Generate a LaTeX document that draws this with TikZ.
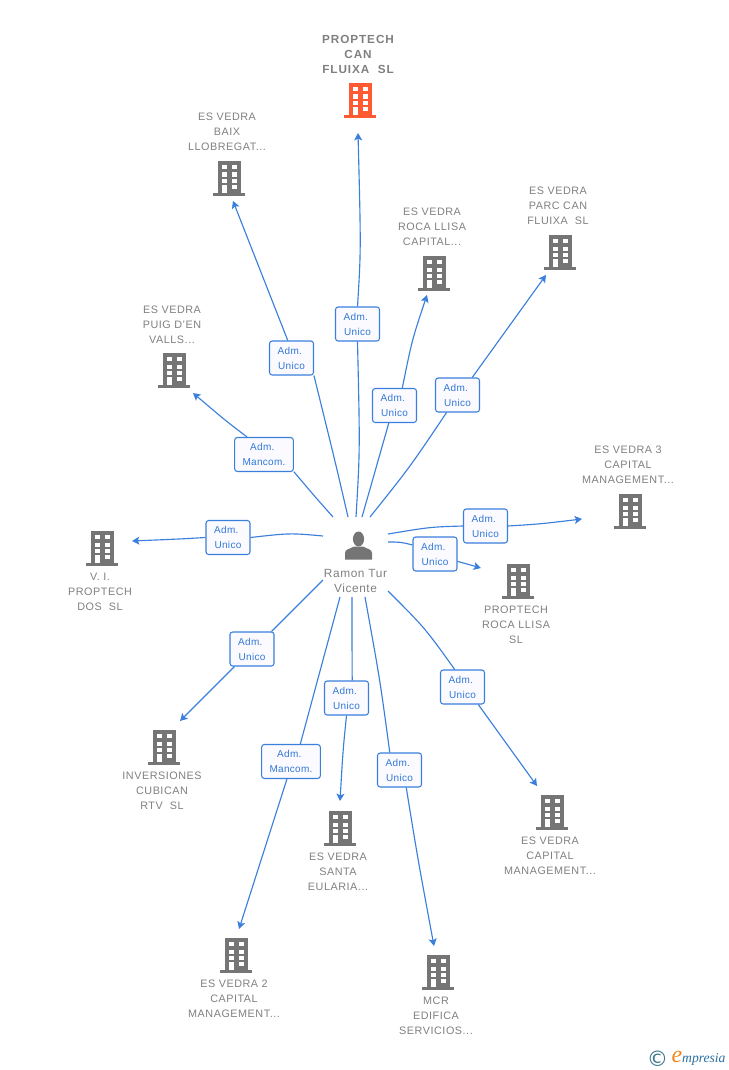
\documentclass[tikz,border=0pt]{standalone}
\usepackage{fontspec}
\setmainfont{Liberation Sans}
\newfontfamily\logofont{Liberation Serif}
\newfontfamily\symfont{DejaVu Sans}
\usetikzlibrary{arrows.meta,positioning}
\definecolor{edgeblue}{RGB}{58,127,220}
\definecolor{roletext}{RGB}{50,120,215}
\definecolor{labelgrey}{RGB}{128,128,128}
\definecolor{iconblack}{RGB}{117,117,117}
\definecolor{iconred}{RGB}{255,90,50}
\definecolor{logoteal}{RGB}{60,120,140}
\definecolor{logoorange}{RGB}{240,135,30}
\definecolor{logoblue}{RGB}{40,110,160}
\newcommand{\admrole}{Adm.\kern2.5pt}
\tikzstyle{edge} = [edgeblue,line width=0.85pt]
\tikzstyle{arrow} = [edge,-{Stealth[length=5.5pt,width=6pt,inset=1.2pt]}]
\tikzstyle{rolebox} = [rectangle, rounded corners=2pt, minimum width=33pt, minimum height=25.5pt, inner sep=0pt, align=center, draw=edgeblue, fill=white!98!blue, line width=0.8pt, text=roletext, font=\fontsize{7.5pt}{11.2pt}\selectfont\addfontfeature{LetterSpace=3}]
\tikzstyle{namelabel} = [align=center, inner sep=0pt, text=labelgrey, font=\fontsize{8.1pt}{11.25pt}\selectfont\addfontfeature{LetterSpace=5}]
\tikzstyle{building} = [rectangle, minimum width=24pt, minimum height=27pt, inner sep=0pt,
  path picture={
    \begin{scope}[shift={(path picture bounding box.center)}]
    \fill[#1] (-11.5,-17) rectangle (11.5,15);
    \fill[#1] (-16,15) rectangle (16,18);
    \foreach \wy in {-13,-5.5,1}{
      \fill[white] (-7.5,\wy) rectangle (-2.5,{\wy+4.3});
      \fill[white] (2.5,\wy) rectangle (7.5,{\wy+4.3});
    }
    \fill[white] (2.5,7) rectangle (7.5,11.3);
    \fill[white] (-7.5,7) rectangle (-2.5,15);
    \end{scope}
  }]
\begin{document}
\begin{tikzpicture}[x=0.75pt,y=-0.75pt]
\useasboundingbox (0,0) rectangle (728,1070);

% Person in the middle
\node[minimum width=24pt, minimum height=24pt, inner sep=0pt] (person) at (358,545) {};
\fill[iconblack] (358.5,539) ellipse (5.6 and 7.5);
\fill[iconblack] (345,559.5) -- (345,553) .. controls (345,549) and (350,549) .. (354,546.5) -- (363,546.5) .. controls (367,549) and (372,549) .. (372,553) -- (372,559.5) -- cycle;
\node[namelabel, font=\fontsize{8.9pt}{11.25pt}\selectfont\addfontfeature{LetterSpace=5}] (personname) at (355.5,580.5) {Ramon Tur\\Vicente};

% Buildings
\node[building=iconred] (top) at (360,100) {};
\node[building=iconblack] (baix) at (229,178) {};
\node[building=iconblack] (rocacap) at (434,273) {};
\node[building=iconblack] (parc) at (560,252) {};
\node[building=iconblack] (puig) at (174,370) {};
\node[building=iconblack] (trescap) at (630,511) {};
\node[building=iconblack] (rocasl) at (518,581) {};
\node[building=iconblack] (vi) at (102,548) {};
\node[building=iconblack] (inver) at (164,747) {};
\node[building=iconblack] (santa) at (340,828) {};
\node[building=iconblack] (capital) at (552,812) {};
\node[building=iconblack] (doscap) at (236,955) {};
\node[building=iconblack] (mcr) at (438,972) {};

% Names
\node[namelabel, font=\fontsize{8.8pt}{11.25pt}\selectfont\bfseries\addfontfeature{LetterSpace=8}] (topname) at (358,54) {PROPTECH\\CAN\\FLUIXA\ \ SL};
\node[namelabel] (baixname) at (227,132) {ES VEDRA\\BAIX\\LLOBREGAT...};
\node[namelabel] (rocacapname) at (432,227) {ES VEDRA\\ROCA LLISA\\CAPITAL...};
\node[namelabel] (parcname) at (558,206) {ES VEDRA\\PARC CAN\\FLUIXA\ \ SL};
\node[namelabel] (puigname) at (172,325) {ES VEDRA\\PUIG D'EN\\VALLS...};
\node[namelabel] (trescapname) at (628,465) {ES VEDRA 3\\CAPITAL\\MANAGEMENT...};
\node[namelabel] (rocaslname) at (516,625) {PROPTECH\\ROCA LLISA\\SL};
\node[namelabel] (viname) at (100,592) {V. I.\\PROPTECH\\DOS\ \ SL};
\node[namelabel] (invername) at (162,791) {INVERSIONES\\CUBICAN\\RTV\ \ SL};
\node[namelabel] (santaname) at (338,872) {ES VEDRA\\SANTA\\EULARIA...};
\node[namelabel] (capitalname) at (550,856) {ES VEDRA\\CAPITAL\\MANAGEMENT...};
\node[namelabel] (doscapname) at (234,999) {ES VEDRA 2\\CAPITAL\\MANAGEMENT...};
\node[namelabel] (mcrname) at (436,1016) {MCR\\EDIFICA\\SERVICIOS...};

% Role boxes
\node[rolebox] (rtop) at (357.5,324) {\admrole\\Unico};
\node[rolebox] (rbaix) at (291.5,358) {\admrole\\Unico};
\node[rolebox] (rrocacap) at (394.5,405.5) {\admrole\\Unico};
\node[rolebox] (rparc) at (457.5,395) {\admrole\\Unico};
\node[rolebox, minimum width=44pt] (rpuig) at (264,454.5) {\admrole\\Mancom.};
\node[rolebox] (rtrescap) at (485.5,526) {\admrole\\Unico};
\node[rolebox] (rrocasl) at (435,554) {\admrole\\Unico};
\node[rolebox] (rvi) at (228,537.5) {\admrole\\Unico};
\node[rolebox] (rinver) at (252,649) {\admrole\\Unico};
\node[rolebox] (rsanta) at (346.5,698) {\admrole\\Unico};
\node[rolebox] (rcapital) at (462.5,687) {\admrole\\Unico};
\node[rolebox, minimum width=44pt] (rdoscap) at (291,761.5) {\admrole\\Mancom.};
\node[rolebox] (rmcr) at (399.5,770) {\admrole\\Unico};

% Free ends at the person
\coordinate (stop) at (356,517);
\coordinate (sbaix) at (348,517);
\coordinate (srocacap) at (362,517);
\coordinate (sparc) at (370,517);
\coordinate (spuig) at (333,517);
\coordinate (strescap) at (388,534);
\coordinate (srocasl) at (388,542);
\coordinate (svi) at (323,536);
\coordinate (sinver) at (323,580);
\coordinate (ssanta) at (352,597);
\coordinate (scapital) at (388,591);
\coordinate (sdoscap) at (340,597);
\coordinate (smcr) at (365,597);

% Free ends at the buildings
\coordinate (etop) at (358,133);
\coordinate (ebaix) at (233,201);
\coordinate (erocacap) at (427,295);
\coordinate (eparc) at (546,275);
\coordinate (epuig) at (193,393);
\coordinate (etrescap) at (582,519);
\coordinate (erocasl) at (481,568);
\coordinate (evi) at (132,541);
\coordinate (einver) at (180,721);
\coordinate (esanta) at (340,801);
\coordinate (ecapital) at (537,786);
\coordinate (edoscap) at (239,929);
\coordinate (emcr) at (434,946);

% Connectors
\draw[edge] (stop) .. controls (360,450) .. (rtop.south);
\draw[arrow] (rtop.north) .. controls (361,250) .. (etop);
\draw[edge] (sbaix) .. controls (336,465) .. (rbaix.322);
\draw[arrow] (rbaix.102) -- (ebaix);
\draw[edge] (srocacap) .. controls (376,470) .. (rrocacap.252);
\draw[arrow] (rrocacap.66) .. controls (412,340) .. (erocacap);
\draw[edge] (sparc) .. controls (410,467) .. (rparc.238);
\draw[arrow] (rparc.50) -- (eparc);
\draw[edge] (spuig) .. controls (317,499) .. (rpuig.330);
\draw[arrow] (rpuig.134) .. controls (226,421) .. (epuig);
\draw[edge] (strescap) .. controls (430,527) .. (rtrescap.west);
\draw[arrow] (rtrescap.east) .. controls (540,524) .. (etrescap);
\draw[edge] (srocasl) .. controls (400,542) .. (rrocasl.158);
\draw[arrow] (rrocasl.342) -- (erocasl);
\draw[edge] (svi) .. controls (290,533) .. (rvi.east);
\draw[arrow] (rvi.west) .. controls (180,539) .. (evi);
\draw[edge] (sinver) -- (rinver.42);
\draw[arrow] (rinver.225) -- (einver);
\draw[edge] (ssanta) .. controls (352,640) .. (rsanta.72);
\draw[arrow] (rsanta.south) .. controls (343,750) .. (esanta);
\draw[edge] (scapital) .. controls (425,628) .. (rcapital.114);
\draw[arrow] (rcapital.312) -- (ecapital);
\draw[edge] (sdoscap) -- (rdoscap.62);
\draw[arrow] (rdoscap.257) -- (edoscap);
\draw[edge] (smcr) .. controls (380,680) .. (rmcr.119);
\draw[arrow] (rmcr.291) .. controls (418,860) .. (emcr);

% Logo
\node[inner sep=0pt, text=logoteal, font=\symfont\fontsize{16pt}{16pt}\selectfont] (logoc) at (657.5,1059) {©};
\node[inner sep=0pt, text=logoorange, font=\logofont\itshape\fontsize{18pt}{18pt}\selectfont] (logoe) at (677,1057) {e};
\node[inner sep=0pt, text=logoblue, font=\logofont\itshape\fontsize{10.2pt}{10.2pt}\selectfont, right=-0.5pt of logoe.base east, anchor=base west] (logotext) {mpresia};
\end{tikzpicture}
\end{document}
